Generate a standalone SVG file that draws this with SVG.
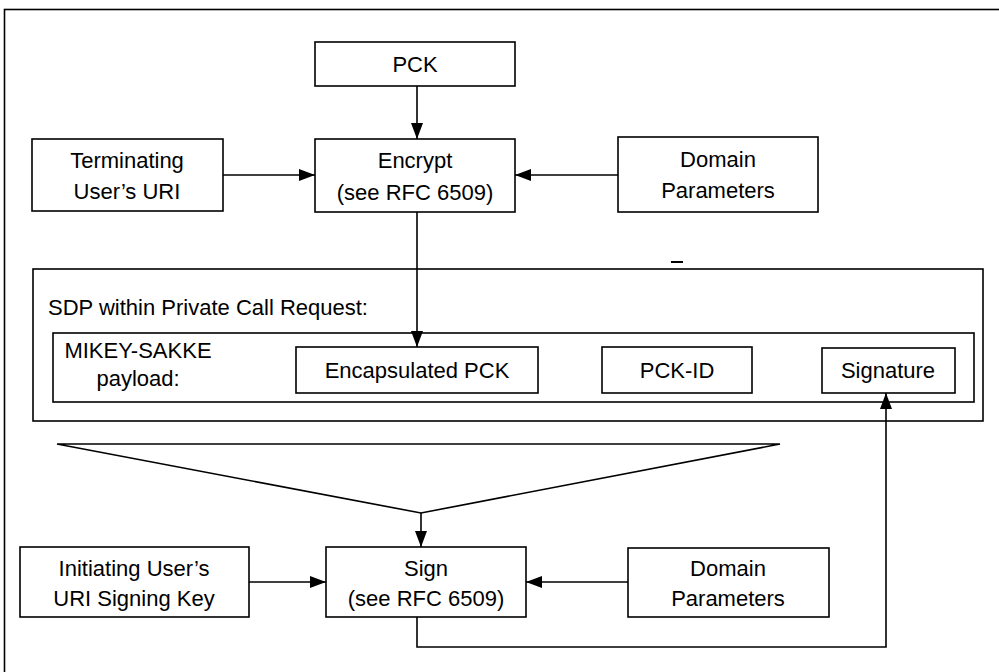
<svg xmlns="http://www.w3.org/2000/svg" width="999" height="672" viewBox="0 0 999 672">
<defs>
<marker id="ah" viewBox="0 0 16 12" refX="16" refY="6" markerWidth="16" markerHeight="12" markerUnits="userSpaceOnUse" orient="auto">
<path d="M0,0 L16,6 L0,12 Z" fill="#000"/>
</marker>
<style>
.box{fill:#fff;stroke:#000;stroke-width:1.6}
.frame{fill:none;stroke:#000;stroke-width:1.6}
.t{font-family:"Liberation Sans",Arial,sans-serif;font-size:22px;fill:#000;text-anchor:middle}
.tl{font-family:"Liberation Sans",Arial,sans-serif;font-size:22px;fill:#000}
.c{fill:none;stroke:#000;stroke-width:1.6}
</style>
</defs>
<rect width="999" height="672" fill="#fff"/>
<rect class="frame" x="4.5" y="9.5" width="1000" height="700"/>
<line x1="671" y1="262" x2="683" y2="262" stroke="#000" stroke-width="2"/>

<g id="sdp">
<rect class="box" x="33" y="269" width="950" height="152"/>
<text class="tl" x="48" y="315">SDP within Private Call Request:</text>
</g>
<g id="mikey">
<rect class="box" x="53" y="333" width="921" height="69"/>
<text class="t" x="138" y="358">MIKEY-SAKKE</text>
<text class="t" x="138" y="386">payload:</text>
</g>
<g id="encap">
<rect class="box" x="296" y="347" width="242" height="46"/>
<text class="t" x="417" y="378">Encapsulated PCK</text>
</g>
<g id="pckid">
<rect class="box" x="602" y="347" width="150" height="46"/>
<text class="t" x="677" y="378">PCK-ID</text>
</g>
<g id="signature">
<rect class="box" x="822" y="348" width="133" height="45"/>
<text class="t" x="888" y="378">Signature</text>
</g>

<g id="pck">
<rect class="box" x="315" y="42" width="200" height="44"/>
<text class="t" x="415" y="72">PCK</text>
</g>
<g id="encrypt">
<rect class="box" x="315" y="139" width="200" height="73"/>
<text class="t" x="415" y="168">Encrypt</text>
<text class="t" x="415" y="200">(see RFC 6509)</text>
</g>
<g id="termuri">
<rect class="box" x="32" y="139" width="191" height="72"/>
<text class="t" x="127" y="168">Terminating</text>
<text class="t" x="127" y="199">User’s URI</text>
</g>
<g id="domain1">
<rect class="box" x="618" y="137" width="200" height="75"/>
<text class="t" x="718" y="167">Domain</text>
<text class="t" x="718" y="198">Parameters</text>
</g>

<g id="sign">
<rect class="box" x="326" y="547" width="200" height="70"/>
<text class="t" x="426" y="576">Sign</text>
<text class="t" x="426" y="606">(see RFC 6509)</text>
</g>
<g id="inituri">
<rect class="box" x="20" y="547" width="229" height="70"/>
<text class="t" x="134" y="576">Initiating User’s</text>
<text class="t" x="134" y="606">URI Signing Key</text>
</g>
<g id="domain2">
<rect class="box" x="628" y="548" width="201" height="69"/>
<text class="t" x="728" y="576">Domain</text>
<text class="t" x="728" y="606">Parameters</text>
</g>

<g id="connectors">
<line class="c" x1="417" y1="86" x2="417" y2="139" marker-end="url(#ah)"/>
<line class="c" x1="223" y1="175" x2="315" y2="175" marker-end="url(#ah)"/>
<line class="c" x1="618" y1="175" x2="515" y2="175" marker-end="url(#ah)"/>
<line class="c" x1="417" y1="212" x2="417" y2="347" marker-end="url(#ah)"/>
<polyline class="c" points="57,444 780,444 421,513 57,444"/>
<line class="c" x1="421" y1="513" x2="421" y2="547" marker-end="url(#ah)"/>
<line class="c" x1="249" y1="582" x2="326" y2="582" marker-end="url(#ah)"/>
<line class="c" x1="628" y1="582" x2="526" y2="582" marker-end="url(#ah)"/>
<polyline class="c" points="417,617 417,647 886,647 886,393" marker-end="url(#ah)"/>
</g>
</svg>
